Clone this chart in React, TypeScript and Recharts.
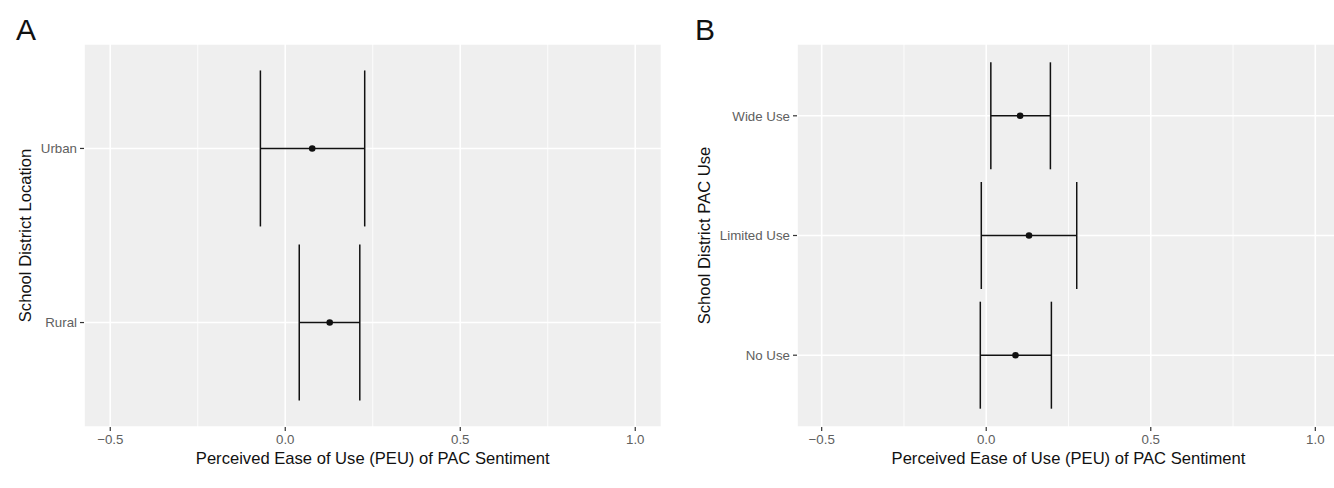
import { ScatterChart, Scatter, XAxis, YAxis, CartesianGrid, ErrorBar } from "recharts";

// panel A: school district location
const locationCategories = ["Rural", "Urban"];
const locationMean = [0.127, 0.077];
const locationLow = [0.04, -0.071];
const locationHigh = [0.213, 0.227];

// panel B: school district PAC use
const pacCategories = ["No Use", "Limited Use", "Wide Use"];
const pacMean = [0.089, 0.13, 0.103];
const pacLow = [-0.018, -0.015, 0.014];
const pacHigh = [0.198, 0.275, 0.195];

const xTicks = [-0.5, 0, 0.5, 1.0];
const xMinorTicks = [-0.25, 0.25, 0.75];
const xDomain: [number, number] = [-0.575, 1.075];

const FONT = "'Liberation Sans', Arial, Helvetica, sans-serif";
const X_TITLE = "Perceived Ease of Use (PEU) of PAC Sentiment";

const fmtX = (v: number) => (v < 0 ? "\u2212" + Math.abs(v).toFixed(1) : v.toFixed(1));

function buildRows(means: number[], lows: number[], highs: number[]) {
  return means.map((m, i) => ({
    x: m,
    y: i + 1,
    err: [m - lows[i], highs[i] - m],
  }));
}

const Dot = (props: any) => <circle cx={props.cx} cy={props.cy} r={3.3} fill="#111" />;

interface PanelProps {
  categories: string[];
  means: number[];
  lows: number[];
  highs: number[];
  yAxisWidth: number;
  rightMargin: number;
  capHalf: number;
}

function Panel({ categories, means, lows, highs, yAxisWidth, rightMargin, capHalf }: PanelProps) {
  const data = buildRows(means, lows, highs);
  const yTicks = categories.map((_, i) => i + 1);
  const tickStyle = { fill: "#606060", fontSize: 13.3, fontFamily: FONT };
  return (
    <ScatterChart width={680} height={488} margin={{ top: 44, right: rightMargin, bottom: 0, left: 0 }}>
      <CartesianGrid
        fill="#efefef"
        stroke="#ffffff"
        strokeWidth={0.8}
        horizontal={false}
        verticalValues={xMinorTicks}
      />
      <CartesianGrid stroke="#ffffff" strokeWidth={1.6} />
      <XAxis
        type="number"
        dataKey="x"
        domain={xDomain}
        ticks={xTicks}
        tickFormatter={fmtX}
        allowDataOverflow
        axisLine={false}
        tickLine={{ stroke: "#333333", strokeWidth: 1.2 }}
        tickSize={4}
        tickMargin={4}
        tick={tickStyle}
        height={61}
        interval={0}
      />
      <YAxis
        type="number"
        dataKey="y"
        domain={[0.4, categories.length + 0.6]}
        ticks={yTicks}
        tickFormatter={(v: number) => categories[v - 1]}
        allowDataOverflow
        axisLine={false}
        tickLine={{ stroke: "#333333", strokeWidth: 1.2 }}
        tickSize={4}
        tickMargin={3}
        tick={tickStyle}
        width={yAxisWidth}
        interval={0}
      />
      <Scatter data={data} shape={Dot} isAnimationActive={false}>
        <ErrorBar dataKey="err" direction="x" width={capHalf} stroke="#111" strokeWidth={1.5} isAnimationActive={false} />
      </Scatter>
    </ScatterChart>
  );
}

export default function App() {
  return (
    <div
      style={{
        position: "fixed",
        left: 0,
        top: 0,
        width: 1334,
        height: 488,
        overflow: "hidden",
        background: "#fff",
        fontFamily: FONT,
      }}
    >
      <div style={{ position: "absolute", left: 0, top: 0 }}>
        <Panel
          categories={locationCategories}
          means={locationMean}
          lows={locationLow}
          highs={locationHigh}
          yAxisWidth={84}
          rightMargin={18.5}
          capHalf={78}
        />
      </div>
      <div style={{ position: "absolute", left: 680, top: 0 }}>
        <Panel
          categories={pacCategories}
          means={pacMean}
          lows={pacLow}
          highs={pacHigh}
          yAxisWidth={117}
          rightMargin={20}
          capHalf={53.5}
        />
      </div>
      <svg
        width={1334}
        height={488}
        style={{ position: "absolute", left: 0, top: 0, pointerEvents: "none" }}
        fontFamily={FONT}
      >
        <text x={16} y={40} fontSize={30} fill="#111">A</text>
        <text x={695} y={40} fontSize={30} fill="#111">B</text>
        <text x={372.75} y={464} fontSize={16.6} textAnchor="middle" fill="#111">{X_TITLE}</text>
        <text x={1068.5} y={464} fontSize={16.6} textAnchor="middle" fill="#111">{X_TITLE}</text>
        <text x={31} y={235.5} fontSize={16.6} textAnchor="middle" fill="#111" transform="rotate(-90 31 235.5)">
          School District Location
        </text>
        <text x={710} y={235.5} fontSize={16.6} textAnchor="middle" fill="#111" transform="rotate(-90 710 235.5)">
          School District PAC Use
        </text>
      </svg>
    </div>
  );
}
